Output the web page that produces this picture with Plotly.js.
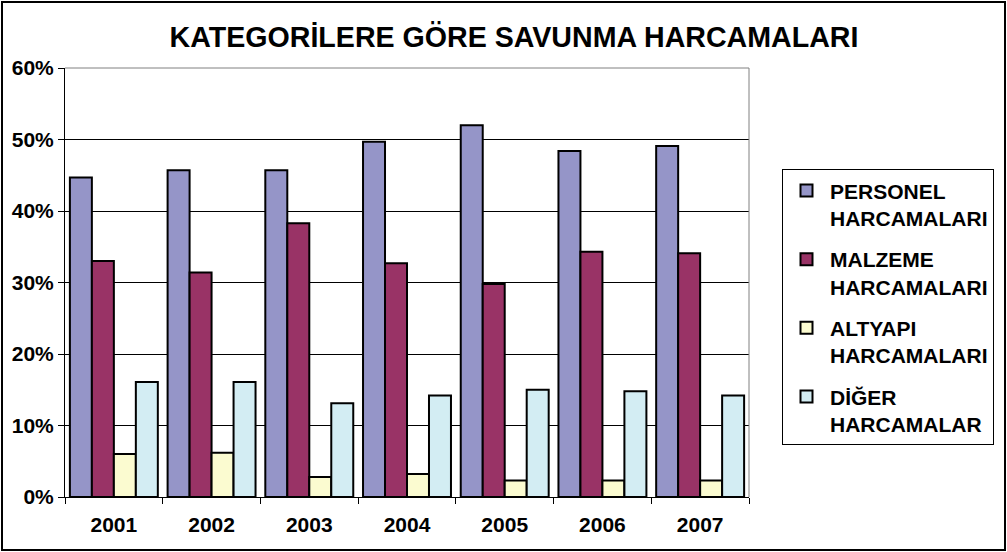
<!DOCTYPE html>
<html>
<head>
<meta charset="utf-8">
<script src="https://cdn.plot.ly/plotly-3.0.1.min.js"></script>
<style>
html,body{margin:0;padding:0;background:#fff;}
#wrap{position:relative;width:1007px;height:552px;}
#chart{width:1007px;height:552px;}
#frame{position:absolute;left:1px;top:1px;right:1px;bottom:1px;border:2px solid #000;pointer-events:none;}
</style>
</head>
<body>
<div id="wrap"><div id="chart"></div><div id="frame"></div></div>
<script>
const years = ['2001','2002','2003','2004','2005','2006','2007'];
const seriesNames = ['PERSONEL<br>HARCAMALARI','MALZEME<br>HARCAMALARI','ALTYAPI<br>HARCAMALARI','DİĞER<br>HARCAMALAR'];
const personel = [0.447, 0.457, 0.457, 0.497, 0.520, 0.484, 0.491];
const malzeme  = [0.330, 0.314, 0.383, 0.327, 0.298, 0.343, 0.341];
const altyapi  = [0.060, 0.062, 0.028, 0.032, 0.023, 0.023, 0.023];
const diger    = [0.161, 0.161, 0.131, 0.142, 0.150, 0.148, 0.142];
const colors = ['#9595C8','#993366','#FBFBD0','#D3EDF3'];
const values = [personel, malzeme, altyapi, diger];

const FONT = 'Liberation Sans, Arial, sans-serif';
const traces = values.map((v,i)=>({
  type:'bar', x: years, y: v,
  name: '<b>'+seriesNames[i].replace('<br>','</b><br><b>')+'</b>',
  legendgroup: 'g'+i,
  marker:{color: colors[i], line:{color:'#000', width:2}},
  hoverinfo:'y'
}));

const layout = {
  width:1007, height:552,
  margin:{l:65, r:258, t:67.5, b:55.3, pad:0},
  paper_bgcolor:'#fff', plot_bgcolor:'#fff',
  font:{family:FONT, color:'#000', size:21},
  title:{text:'<b>KATEGORİLERE GÖRE SAVUNMA HARCAMALARI</b>', font:{family:FONT, size:28.6, color:'#000'},
         x:514/1007, xanchor:'center', xref:'container', y:1-37/552, yanchor:'middle', yref:'container'},
  barmode:'group', bargap:0.1, bargroupgap:0,
  xaxis:{type:'category', tickson:'boundaries', ticks:'outside', ticklen:6, tickcolor:'#000', tickwidth:1,
         showline:true, linecolor:'#000', linewidth:1, showgrid:false, zeroline:false, ticklabelstandoff:9,
         tickfont:{family:FONT, size:21, color:'#000'}, tickprefix:'<b>', ticksuffix:'</b>'},
  yaxis:{range:[0,0.6], dtick:0.1, tickformat:'.0%', ticks:'outside', ticklen:6, tickcolor:'#000', tickwidth:1,
         showline:true, linecolor:'#000', linewidth:1, showgrid:true, gridcolor:'#000', gridwidth:1, zeroline:false,
         tickfont:{family:FONT, size:21, color:'#000'}, tickprefix:'<b>', ticksuffix:'</b>'},
  legend:{x:(782-65)/684, xanchor:'left', y:(496.7-169)/429.2, yanchor:'top', itemwidth:37,
          bordercolor:'#000', borderwidth:1, bgcolor:'#fff', valign:'top', tracegroupgap:11,
          font:{family:FONT, size:21, color:'#000'}, traceorder:'grouped'},
  shapes:[
    {type:'line', xref:'paper', yref:'paper', x0:0, x1:1, y0:1, y1:1, line:{color:'#808080', width:1}, layer:'above'},
    {type:'line', xref:'paper', yref:'paper', x0:1, x1:1, y0:0, y1:1, line:{color:'#808080', width:1}, layer:'above'}
  ]
};
Plotly.newPlot('chart', traces, layout, {displayModeBar:false, staticPlot:true});
</script>
</body>
</html>
